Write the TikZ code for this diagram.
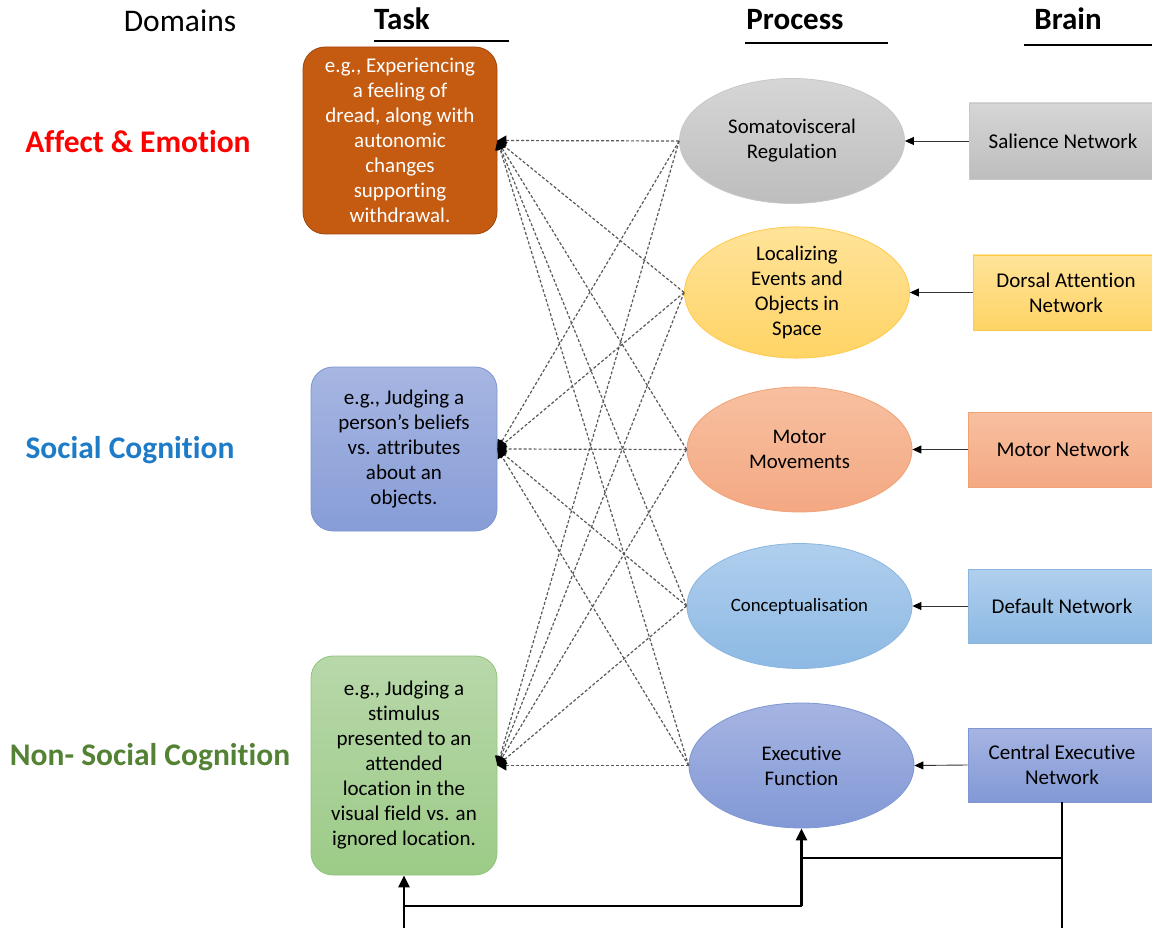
\documentclass[tikz,border=0pt]{standalone}
\usepackage{fontspec}
\setmainfont{Carlito}[Ligatures=NoCommon]
\usetikzlibrary{shapes.geometric,arrows.meta}
\definecolor{affred}{HTML}{FF0000}
\definecolor{socblue}{HTML}{1E7BC8}
\definecolor{nsgreen}{HTML}{548235}
\definecolor{taskorange}{HTML}{C55A11}
% task fills
\definecolor{tbTop}{HTML}{A7B6E2}\definecolor{tbBot}{HTML}{879DD7}\definecolor{tbLine}{HTML}{7F95D0}
\definecolor{tgTop}{HTML}{B8D8AA}\definecolor{tgBot}{HTML}{9CCB87}\definecolor{tgLine}{HTML}{92C37C}
% process / network fills
\definecolor{grTop}{HTML}{D6D6D6}\definecolor{grBot}{HTML}{BDBDBD}\definecolor{grLine}{HTML}{C8C8C8}
\definecolor{yeTop}{HTML}{FFE399}\definecolor{yeBot}{HTML}{FFD466}\definecolor{yeLine}{HTML}{FFC94A}
\definecolor{orTop}{HTML}{F7C0A0}\definecolor{orBot}{HTML}{F4A883}\definecolor{orLine}{HTML}{F1A274}
\definecolor{lbTop}{HTML}{B0CFEE}\definecolor{lbBot}{HTML}{8DB9E3}\definecolor{lbLine}{HTML}{8AB6E0}
\definecolor{puTop}{HTML}{A6B4E2}\definecolor{puBot}{HTML}{8299D6}\definecolor{puLine}{HTML}{7E97D3}
\begin{document}
\begin{tikzpicture}[x=1pt,y=-1pt,
  header/.style={font=\fontsize{31}{34}\selectfont\bfseries, anchor=base},
  domlabel/.style={font=\fontsize{31.5}{34}\selectfont\bfseries},
  taskbox/.style={rounded corners=22pt, draw, line width=0.8pt, align=center,
    inner sep=0pt, font=\fontsize{21}{25}\selectfont},
  proc/.style={ellipse, draw, line width=0.8pt, inner sep=0pt, align=center,
    minimum width=225pt, minimum height=125pt, font=\fontsize{20.8}{25}\selectfont},
  brainbox/.style={rectangle, draw, line width=0.8pt, align=center, inner sep=0pt,
    minimum width=188pt, minimum height=75pt, font=\fontsize{21}{25}\selectfont},
  link/.style={draw=black!65, dash pattern=on 3pt off 2pt, line width=1.2pt,
    -{Triangle[length=9pt,width=10pt,color=black]}},
  feed/.style={draw=black!80, line width=0.9pt, -{Triangle[length=9pt,width=8pt,color=black]}},
  loopline/.style={line width=2.6pt, black},
  looparrow/.style={line width=2.6pt, black, -{Triangle[length=12pt,width=11pt]}},
  headrule/.style={line width=2.4pt, black}
]
\useasboundingbox (0,0) rectangle (1152,928);
\clip (0,0) rectangle (1152,928);

% column headers
\node[font=\fontsize{31.5}{34}\selectfont, anchor=base] (hdom) at (180,32) {Domains};
\node[header] (htask) at (402,30) {Task};
\node[header] (hproc) at (795,30) {Process};
\node[header] (hbrain) at (1068,30) {Brain};
\coordinate (t1) at (374,41); \coordinate (t2) at (509,41);
\coordinate (p1) at (745,43); \coordinate (p2) at (888,43);
\coordinate (b1) at (1024,45); \coordinate (b2) at (1160,45);
\draw[headrule] (t1) -- (t2);
\draw[headrule] (p1) -- (p2);
\draw[headrule] (b1) -- (b2);

% domains
\node[domlabel, text=affred] (daff) at (138,142) {Affect \& Emotion};
\node[domlabel, text=socblue] (dsoc) at (130,450) {Social Cognition};
\node[domlabel, text=nsgreen] (dns) at (150,757) {Non- Social Cognition};

% tasks
\node[taskbox, fill=taskorange, draw=taskorange!80!black, text=white,
  minimum width=194pt, minimum height=187pt] (task1) at (400,140.5)
  {e.g., Experiencing\\a feeling of\\dread, along with\\autonomic\\changes\\supporting\\withdrawal.};
\node[taskbox, top color=tbTop, bottom color=tbBot, draw=tbLine,
  minimum width=186pt, minimum height=164pt] (task2) at (404,449)
  {e.g., Judging a\\person’s beliefs\\vs. attributes\\about an\\objects.};
\node[taskbox, top color=tgTop, bottom color=tgBot, draw=tgLine,
  minimum width=186pt, minimum height=219pt] (task3) at (404,765.5)
  {e.g., Judging a\\stimulus\\presented to an\\attended\\location in the\\visual field vs. an\\ignored location.};

% processes
\node[proc, top color=grTop, bottom color=grBot, draw=grLine] (pr1) at (792,141)
  {Somatovisceral\\Regulation};
\node[proc, top color=yeTop, bottom color=yeBot, draw=yeLine] (pr2) at (797,292.5)
  {Localizing\\Events and\\Objects in\\Space};
\node[proc, top color=orTop, bottom color=orBot, draw=orLine] (pr3) at (799.5,449.5)
  {Motor\\Movements};
\node[proc, top color=lbTop, bottom color=lbBot, draw=lbLine,
  font=\fontsize{18.8}{22}\selectfont] (pr4) at (799.5,606)
  {Conceptualisation};
\node[proc, top color=puTop, bottom color=puBot, draw=puLine] (pr5) at (801.5,765.5)
  {Executive\\Function};

% brain networks
\node[brainbox, top color=grTop, bottom color=grBot, draw=grLine,
  minimum height=76pt] (br1) at (1063,141) {Salience Network};
\node[brainbox, top color=yeTop, bottom color=yeBot, draw=yeLine,
  minimum width=186pt] (br2) at (1066,292.5) {Dorsal Attention\\Network};
\node[brainbox, top color=orTop, bottom color=orBot, draw=orLine,
  minimum width=190pt] (br3) at (1063,449.5) {Motor Network};
\node[brainbox, top color=lbTop, bottom color=lbBot, draw=lbLine,
  minimum height=74pt] (br4) at (1062,606) {Default Network};
\node[brainbox, top color=puTop, bottom color=puBot, draw=puLine,
  minimum height=74pt] (br5) at (1062,765) {Central Executive\\Network};

% networks feed their processes
\foreach \i in {1,...,5} {
  \draw[feed] (br\i.west) -- (pr\i.east);
}

% every process links to every task
\foreach \t in {1,2,3} {
  \foreach \p in {1,...,5} {
    \draw[link] (pr\p.west) -- (task\t.east);
  }
}

% feedback loop from the central executive network
\coordinate (j1) at (1062,858);
\coordinate (j2) at (801.5,858);
\coordinate (j3) at (801.5,906);
\coordinate (j4) at (404,906);
\coordinate (lowA) at (1062,940);
\coordinate (lowB) at (404,940);
\draw[loopline] (br5.south) -- (lowA);
\draw[loopline] (j1) -- (j2);
\draw[looparrow] (j3) -- (pr5.south);
\draw[loopline] (j3) -- (j4);
\draw[looparrow] (lowB) -- (task3.south);
\end{tikzpicture}
\end{document}
